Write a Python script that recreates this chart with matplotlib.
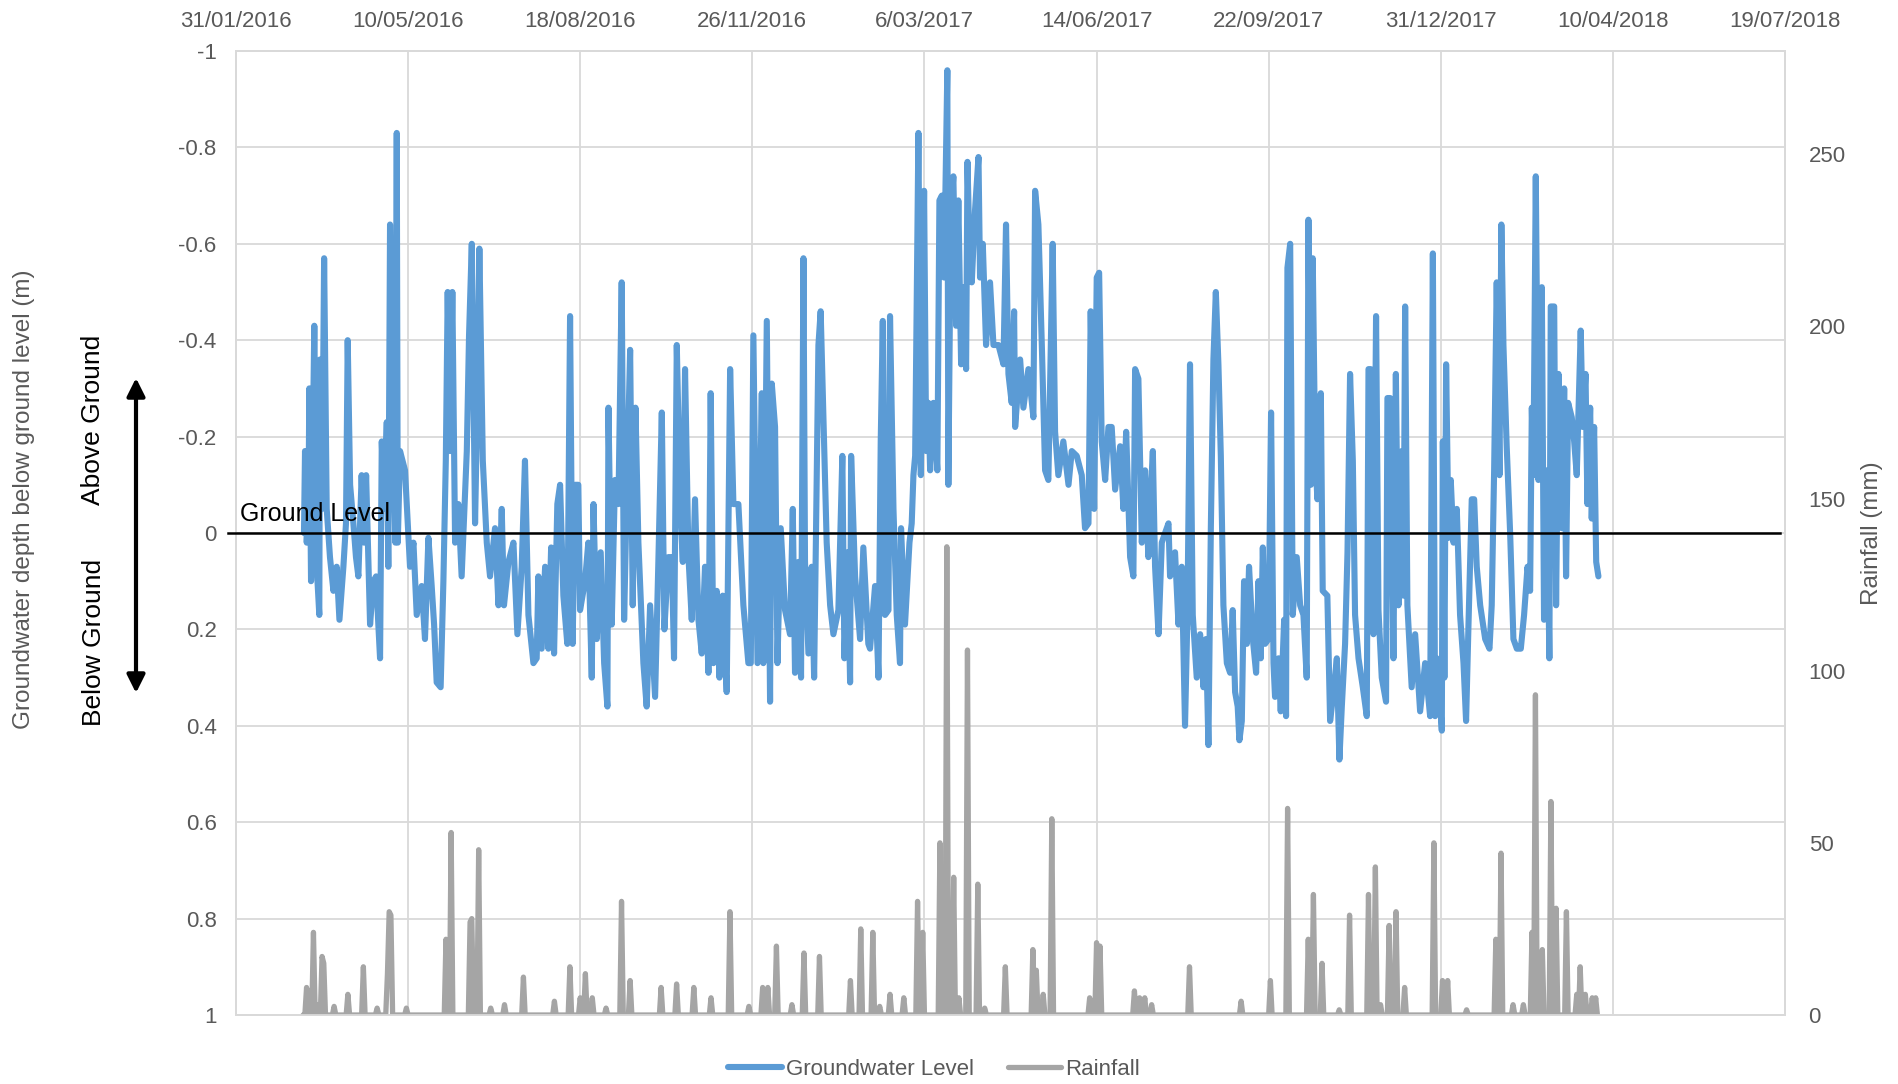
import numpy as np
import pandas as pd
import matplotlib
matplotlib.use('Agg')
import matplotlib.pyplot as plt
import matplotlib.transforms as mtransforms

# day 0 of the series = 31/01/2016 (first date label)
start = pd.Timestamp('2016-01-31')

# groundwater level (m below ground, negative = above ground)
gw_day = [
    39.5, 40.1, 41.1, 42.1, 42.6, 43.6, 44.6, 45.5, 46.9, 48.4,
    48.8, 50.0, 51.2, 52.7, 54.6, 56.6, 58.5, 60.1, 62.4, 63.9,
    64.9, 66.3, 68.2, 69.7, 71.1, 73.0, 74.4, 75.6, 77.9, 79.8,
    81.4, 82.7, 83.7, 84.7, 86.0, 87.6, 88.5, 89.5, 91.4, 92.6,
    93.4, 94.0, 95.3, 98.2, 101.1, 103.1, 105.0, 107.9, 109.8, 111.8,
    113.7, 115.1, 116.6, 118.9, 120.5, 121.9, 123.0, 124.4, 125.7, 127.3,
    129.2, 131.1, 134.1, 135.4, 137.0, 138.9, 140.3, 141.4, 143.4, 145.7,
    147.6,
    150.5, 152.5, 154.4, 155.7, 158.3, 161.2, 163.5, 166.0, 167.9, 169.9,
    172.8, 174.7, 175.7, 177.6, 179.6, 181.5, 183.1, 184.8, 186.7, 188.3,
    190.2, 192.5, 194.1, 195.6, 197.0, 198.9, 199.9, 202.8, 204.7, 206.7,
    207.7, 209.6, 211.9, 213.9, 215.8, 216.4, 218.3, 220.2, 222.2, 224.1,
    225.5, 227.0, 229.0, 230.5, 232.1, 233.8, 236.7, 238.6, 240.6, 243.5,
    245.4, 247.4, 248.9, 251.2, 253.2, 254.5,
    256.1, 258.0, 259.6, 260.9, 262.9, 264.8, 266.7, 268.7, 270.6, 272.5,
    274.5, 275.8, 277.4, 279.3, 280.9, 282.8, 285.1, 287.1, 289.0, 291.9,
    294.8, 297.7, 299.1, 300.6, 303.0, 305.5, 306.4, 308.4, 310.3, 311.3,
    313.2, 314.6, 316.5, 319.0, 321.9, 323.5, 324.8, 326.8, 328.3, 329.7,
    330.6, 332.6, 334.5, 335.9, 338.4, 339.7, 341.3, 343.2, 345.2, 347.1,
    350.0, 352.3, 353.5, 355.4, 356.8, 357.4, 359.7, 362.6, 364.5, 367.4,
    368.4, 371.3, 373.3, 374.6, 375.8, 377.1, 379.1, 380.0, 382.0, 383.9,
    385.8, 386.4, 388.7, 391.3, 392.6, 393.6, 394.6, 396.5, 397.9, 399.8,
    401.0, 402.3, 403.3, 405.2, 407.5, 408.7, 410.1, 411.4, 413.3, 413.9,
    415.3, 416.8, 418.4, 419.7, 421.3, 422.6, 424.2, 425.0, 426.1, 427.5,
    429.4, 431.4, 432.3, 433.9, 435.8, 438.1, 440.1, 443.0, 445.9, 447.4,
    448.8, 450.7, 452.1, 452.7, 455.6, 457.5, 460.4, 463.3, 464.3, 466.2,
    468.2, 470.1, 472.0, 474.5, 475.9, 477.8,
    480.7, 483.7, 485.6, 488.5, 491.4, 493.3, 495.3, 496.6, 498.6, 500.1,
    501.5, 503.0, 505.0, 506.9, 508.8, 510.8, 513.7, 515.6, 517.2, 519.5,
    521.4, 522.4, 524.3, 526.3, 528.2, 530.1, 531.1, 532.7, 534.0, 536.0,
    537.9, 539.8, 541.8, 542.7, 545.6, 547.6, 549.5, 551.4, 552.8, 554.3,
    555.9, 558.2, 560.2, 562.1, 563.6, 565.0, 566.4, 567.9, 569.3, 570.8,
    572.2, 573.7, 575.7, 577.6, 579.1, 580.5, 582.0, 583.0, 584.4, 585.7,
    587.3, 588.6,
    590.8, 592.7, 594.1, 595.4, 596.6, 597.9, 599.9, 601.4, 602.8, 603.7,
    605.7, 607.0, 609.0, 610.1, 610.9, 612.5, 614.0, 616.3, 618.3, 620.2,
    622.1, 623.1, 624.5, 625.6, 627.0, 628.3, 630.3, 631.4, 634.1, 635.7,
    638.0, 639.6, 641.1, 642.5, 644.4, 645.8, 647.3, 648.9, 650.2, 652.2,
    654.7, 657.0, 658.0, 659.3, 660.9, 662.4, 663.8, 665.7, 668.2, 669.0,
    670.6, 672.5, 673.9, 675.4, 677.3, 678.3, 679.3, 680.6, 683.1, 685.1,
    688.0, 690.9, 693.8, 695.4, 696.7,
    697.7, 699.2, 700.6, 701.2, 702.1, 703.1, 704.5, 705.8, 707.4, 709.3,
    711.2, 713.2, 714.7, 716.1, 718.0, 719.4, 720.9, 722.9, 725.8, 728.3,
    729.6, 731.0, 732.5, 734.1, 735.2, 736.4, 738.3, 740.3, 742.2, 744.2,
    746.5, 748.4, 750.4, 751.9, 752.9, 753.8, 755.2, 756.7, 758.7, 760.0,
    761.6, 763.1, 763.9, 765.9, 767.0, 768.4, 770.3, 771.7, 772.8, 774.0,
    776.1, 777.5, 779.0, 781.3, 782.5, 784.1, 785.2, 786.8, 787.7, 789.1,
    790.3, 791.6,
]
gw_level = [
    0.00, -0.17, 0.02, -0.05, -0.30, 0.10, -0.17, -0.43, 0.07, 0.17,
    -0.36, -0.05, -0.57, -0.05, 0.05, 0.12, 0.07, 0.18, 0.07, -0.02,
    -0.40, -0.10, -0.02, 0.05, 0.09, -0.12, 0.02, -0.12, 0.19, 0.10,
    0.09, 0.19, 0.26, -0.19, -0.05, -0.23, 0.07, -0.64, -0.18, 0.02,
    -0.83, 0.02, -0.17, -0.13, 0.07, 0.02, 0.17, 0.11, 0.22, 0.01,
    0.11, 0.19, 0.31, 0.32, 0.10, -0.15, -0.50, -0.17, -0.50, 0.02,
    -0.06, 0.09, -0.17, -0.41, -0.60, -0.02, -0.29, -0.59, -0.15, 0.02,
    0.09,
    -0.01, 0.15, -0.05, 0.15, 0.06, 0.02, 0.21, 0.07, -0.15, 0.17,
    0.27, 0.26, 0.09, 0.24, 0.07, 0.24, 0.03, 0.25, -0.06, -0.10,
    0.13, 0.23, -0.45, 0.23, -0.10, -0.10, 0.16, 0.10, 0.02, 0.30,
    -0.06, 0.22, 0.04, 0.27, 0.36, -0.26, 0.19, -0.11, -0.06, -0.52,
    0.18, -0.07, -0.38, 0.15, -0.26, 0.02, 0.27, 0.36, 0.15, 0.34,
    0.06, -0.25, 0.20, 0.05, 0.05, 0.26,
    -0.39, -0.07, 0.06, -0.34, 0.05, 0.18, -0.07, 0.18, 0.25, 0.07,
    0.29, -0.29, 0.27, 0.12, 0.30, 0.13, 0.33, -0.34, -0.06, -0.06,
    0.15, 0.27, 0.27, -0.41, 0.27, -0.29, 0.27, -0.44, 0.35, -0.31,
    -0.22, 0.27, -0.01, 0.16, 0.21, -0.05, 0.29, 0.06, 0.30, -0.57,
    0.06, 0.25, 0.07, 0.30, -0.39, -0.46, -0.24, 0.02, 0.15, 0.21,
    0.16, -0.16, 0.26, 0.04, 0.31, -0.16, 0.09, 0.22, 0.03, 0.23,
    0.24, 0.11, 0.30, -0.19, -0.44, 0.17, 0.16, -0.45, -0.05, 0.17,
    0.27, -0.01, 0.19, 0.02, -0.02, -0.12, -0.16, -0.83, -0.12, -0.71,
    -0.17, -0.27, -0.13, -0.27, -0.13, -0.69, -0.70, -0.53, -0.96, -0.10,
    -0.66, -0.74, -0.43, -0.69, -0.35, -0.51, -0.34, -0.77, -0.60, -0.52,
    -0.67, -0.78, -0.53, -0.60, -0.39, -0.52, -0.39, -0.39, -0.35, -0.64,
    -0.33, -0.27, -0.46, -0.22, -0.36, -0.26, -0.34, -0.24, -0.71, -0.64,
    -0.39, -0.13, -0.11, -0.60, -0.21, -0.12,
    -0.19, -0.10, -0.17, -0.16, -0.12, -0.01, -0.02, -0.46, -0.05, -0.53,
    -0.54, -0.19, -0.11, -0.22, -0.22, -0.09, -0.18, -0.05, -0.21, 0.05,
    0.09, -0.34, -0.32, 0.02, -0.13, 0.05, -0.05, -0.17, 0.07, 0.21,
    0.02, 0.00, -0.02, 0.09, 0.04, 0.19, 0.07, 0.40, 0.17, -0.35,
    0.17, 0.30, 0.21, 0.32, 0.22, 0.44, -0.01, -0.36, -0.50, -0.35,
    -0.16, 0.15, 0.27, 0.29, 0.16, 0.33, 0.36, 0.43, 0.39, 0.10,
    0.23, 0.07,
    0.22, 0.29, 0.10, 0.26, 0.03, 0.23, 0.22, -0.25, 0.27, 0.34,
    0.26, 0.37, 0.18, 0.38, -0.55, -0.60, 0.17, 0.05, 0.15, 0.17,
    0.30, -0.65, -0.10, -0.57, -0.17, -0.07, -0.29, 0.12, 0.13, 0.39,
    0.32, 0.26, 0.47, 0.36, 0.23, 0.04, -0.33, -0.15, 0.17, 0.26,
    0.32, 0.38, -0.34, -0.34, 0.21, -0.45, 0.16, 0.30, 0.35, -0.28,
    -0.28, 0.26, -0.33, 0.15, -0.17, 0.13, -0.47, 0.15, 0.32, 0.21,
    0.37, 0.27, 0.38, -0.58, 0.38,
    0.26, 0.33, 0.41, -0.19, 0.30, -0.35, 0.01, -0.11, 0.02, -0.05,
    0.17, 0.27, 0.39, 0.19, -0.07, -0.07, 0.07, 0.15, 0.22, 0.24,
    0.15, -0.13, -0.52, -0.12, -0.64, -0.39, -0.18, 0.00, 0.22, 0.24,
    0.24, 0.17, 0.07, 0.12, -0.26, -0.12, -0.74, -0.11, -0.51, 0.18,
    -0.13, 0.26, -0.47, -0.47, 0.15, -0.33, -0.01, -0.30, 0.09, -0.27,
    -0.24, -0.19, -0.12, -0.42, -0.22, -0.33, -0.06, -0.26, -0.03, -0.22,
    0.06, 0.09,
]

# daily rainfall (mm), only the days with rain; every other day is 0
rain_first, rain_last = 39, 791
rain_day = [
    41, 43, 45, 47, 50, 51, 57, 65, 74, 82,
    88, 89, 90, 99, 122, 125, 136, 137, 141, 148,
    156, 167, 185, 194, 200, 203, 207, 215, 224, 229,
    247, 256, 266, 276, 287, 298, 306, 309, 314, 323,
    330, 339, 357, 363, 370, 374, 380, 388, 396, 399,
    409, 411, 413, 417, 420, 425, 431, 435, 447, 463,
    465, 469, 474, 496, 500, 502, 522, 525, 528, 532,
    554, 584, 601, 611, 623, 626, 631, 641, 647, 658,
    662, 665, 670, 674, 679, 696, 701, 704, 715, 732,
    735, 742, 748, 753, 755, 759, 764, 767, 773, 779,
    781, 784, 788, 790,
]
rain_mm = [
    8, 7, 24, 3, 17, 15, 2.5, 6, 14, 2,
    12, 30, 29, 2, 22, 53, 27, 28, 48, 2,
    3, 11, 4, 14, 5, 12, 5, 2, 33, 10,
    8, 9, 8, 5, 30, 2.5, 8, 8, 20, 3,
    18, 17, 10, 25, 24, 2.5, 6, 5, 33, 24,
    50, 40, 136, 40, 5, 106, 38, 2, 14, 19,
    13, 6, 57, 5, 21, 20, 7, 5, 5, 3,
    14, 4, 10, 60, 22, 35, 15, 1.5, 29, 35,
    43, 3, 26, 30, 8, 50, 10, 10, 1.5, 22,
    47, 3, 3, 24, 93, 19, 62, 31, 30, 6,
    14, 6, 5, 5,
]

date_step = 100  # Excel major unit on the date axis (days)
n_dates = 10

gw_dates = start + pd.to_timedelta(gw_day, unit='D')

rain = pd.Series(0.0, index=np.arange(rain_first, rain_last + 1))
rain.loc[rain_day] = rain_mm
rain_dates = start + pd.to_timedelta(rain.index, unit='D')

plt.rcParams['font.family'] = ['Liberation Sans', 'DejaVu Sans']
txt_grey = '#595959'
grid_col = '#d9d9d9'
blue = '#5B9BD5'
grey = '#A5A5A5'

fig = plt.figure(figsize=(18.99, 10.84), dpi=100)
ax = fig.add_axes([236 / 1899, 1 - 1015 / 1084, (1785 - 236) / 1899, (1015 - 51) / 1084])
ax2 = ax.twinx()

gw_line, = ax.plot(gw_dates, gw_level, color=blue, lw=4.4,
                   solid_joinstyle='round', solid_capstyle='round', label='Groundwater Level')
rain_line, = ax2.plot(rain_dates, rain.values, color=grey, lw=3.8,
                      solid_joinstyle='round', solid_capstyle='round', label='Rainfall')

# left axis: depth, inverted
ax.set_ylim(1, -1)
yt = np.round(np.arange(-1, 1.01, 0.2), 1)
ax.set_yticks(yt)
ax.set_yticklabels(['{:g}'.format(v + 0.0) for v in yt])

# right axis: rainfall
ax2.set_ylim(0, 280)
ax2.set_yticks(range(0, 251, 50))

# top date axis
ticks = [start + pd.Timedelta(days=date_step * i) for i in range(n_dates)]
ax.set_xlim(ticks[0], ticks[-1])
ax.set_xticks(ticks)
ax.set_xticklabels([f'{d.day}/{d.month:02d}/{d.year}' for d in ticks])
ax.xaxis.tick_top()

ax.grid(True, color=grid_col, lw=1.3)
ax.set_axisbelow(True)
for a in (ax, ax2):
    for s in a.spines.values():
        s.set_color(grid_col)
        s.set_linewidth(1.3)
ax.tick_params(axis='y', length=0, labelsize=16, labelcolor=txt_grey, pad=14)
ax.tick_params(axis='x', length=0, labelsize=16, labelcolor=txt_grey, pad=14)
ax2.tick_params(axis='y', length=0, labelsize=16, labelcolor=txt_grey, pad=17)

# ground level line and label
trans = mtransforms.blended_transform_factory(ax.transAxes, ax.transData)
ax2.plot([-0.005, 0.997], [0, 0], transform=trans, color='black', lw=1.8,
         clip_on=False, zorder=5)
ax2.text(0.0026, -0.025, 'Ground Level', transform=trans, fontsize=18,
         color='black', ha='left', va='baseline', zorder=6)

# axis titles
fig.text(24 / 1899, 1 - 499 / 1084, 'Groundwater depth below ground level (m)',
         rotation=90, ha='center', va='center', fontsize=17.5, color=txt_grey)
fig.text(1872 / 1899, 1 - 533 / 1084, 'Rainfall (mm)',
         rotation=90, ha='center', va='center', fontsize=17.5, color=txt_grey)

# above / below ground arrow
fig.text(93 / 1899, 1 - 420 / 1084, 'Above Ground', rotation=90,
         ha='center', va='center', fontsize=19, color='black')
fig.text(94 / 1899, 1 - 642 / 1084, 'Below Ground', rotation=90,
         ha='center', va='center', fontsize=19, color='black')
ax.annotate('', xy=(136 / 1899, 1 - 378 / 1084), xytext=(136 / 1899, 1 - 693 / 1084),
            xycoords='figure fraction', textcoords='figure fraction',
            arrowprops=dict(arrowstyle='<|-|>', color='black', lw=3,
                            mutation_scale=27, shrinkA=0, shrinkB=0))

fig.legend([gw_line, rain_line], ['Groundwater Level', 'Rainfall'],
           loc='center', bbox_to_anchor=(0.492, 0.0138), ncol=2, frameon=False,
           fontsize=16, handlelength=2.4, handletextpad=0.2, columnspacing=1.5,
           labelcolor=txt_grey)

fig.savefig('out.png', dpi=100)
